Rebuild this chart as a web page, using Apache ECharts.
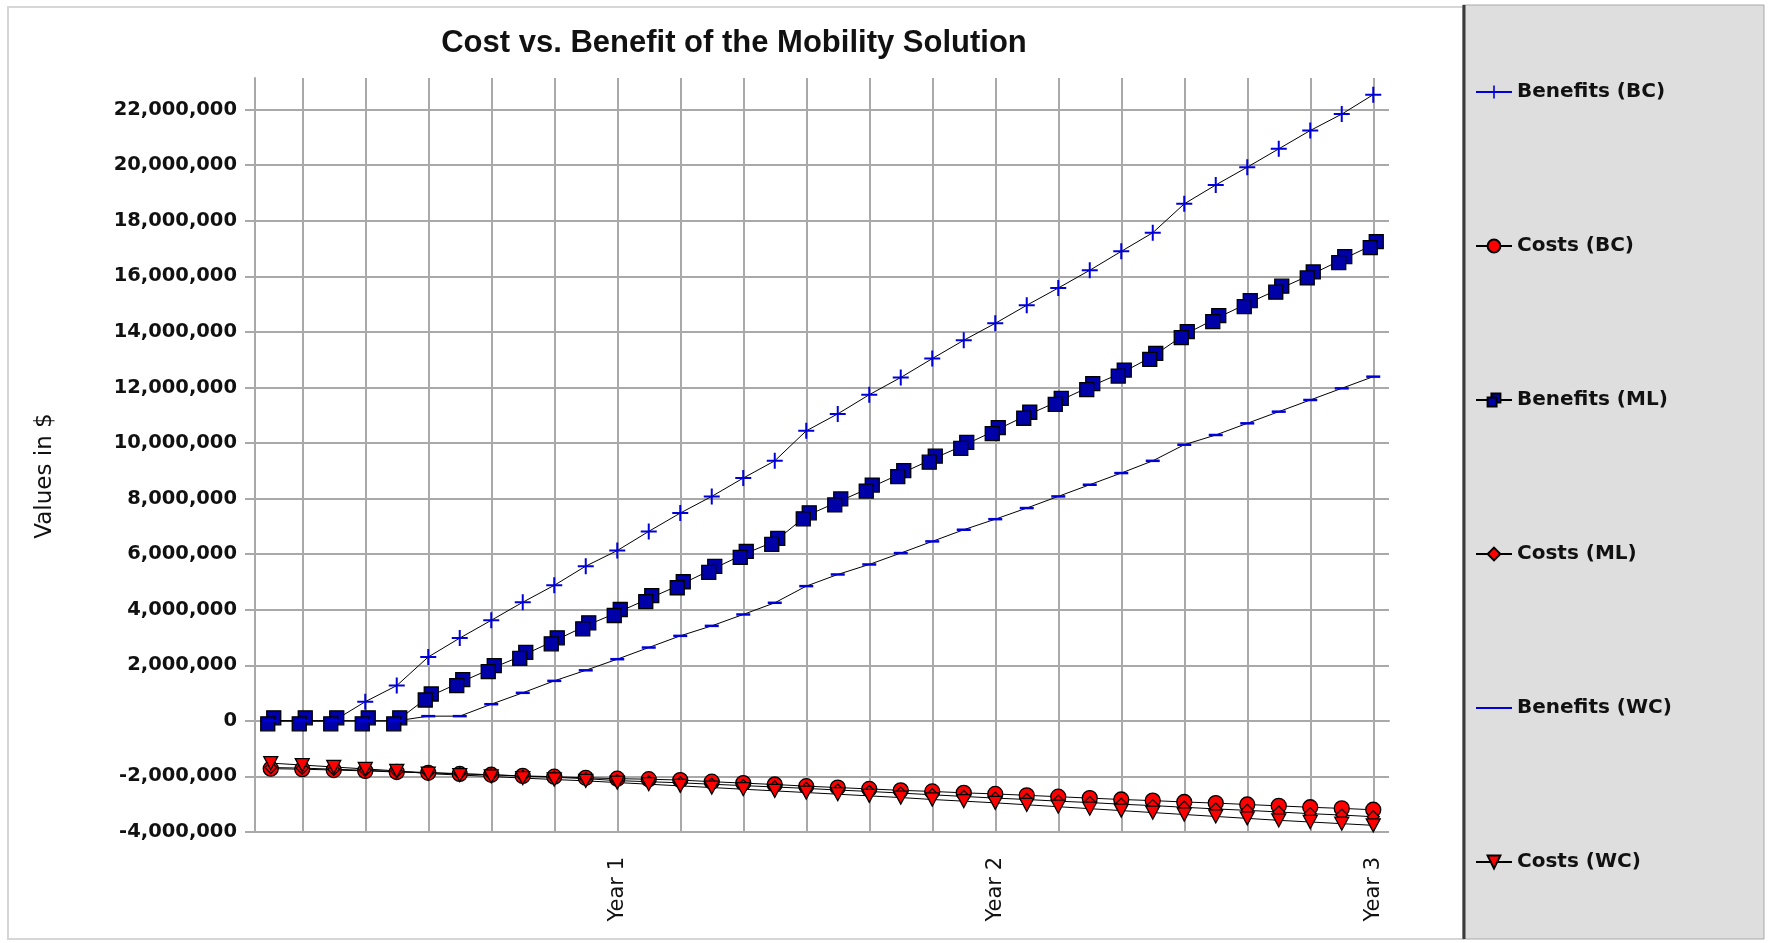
<!DOCTYPE html>
<html>
<head>
<meta charset="utf-8">
<title>Cost vs. Benefit of the Mobility Solution</title>
<script src="https://cdn.jsdelivr.net/npm/echarts@6.0.0/dist/echarts.min.js"></script>
<style>
  html, body { margin: 0; padding: 0; background: #fff; }
  #chart { width: 1769px; height: 943px; }
</style>
</head>
<body>
<div id="chart"></div>
<script>
// months 1..36, only every 12th month gets a "Year N" label
const months = ['1', '2', '3', '4', '5', '6', '7', '8', '9', '10', '11', '12',
  '13', '14', '15', '16', '17', '18', '19', '20', '21', '22', '23', '24',
  '25', '26', '27', '28', '29', '30', '31', '32', '33', '34', '35', '36']

const benefitsBC = [0, 0, 0, 690000, 1270000, 2300000, 2980000, 3620000, 4270000, 4880000, 5570000, 6130000,
  6820000, 7480000, 8080000, 8740000, 9360000, 10440000, 11050000, 11740000, 12360000, 13040000, 13700000, 14310000,
  14960000, 15580000, 16220000, 16900000, 17570000, 18610000, 19290000, 19930000, 20590000, 21250000, 21840000, 22540000]

const costsBC = [-1720000, -1740000, -1770000, -1800000, -1840000, -1870000, -1910000, -1940000, -1980000, -2010000, -2050000, -2080000,
  -2100000, -2130000, -2190000, -2240000, -2290000, -2350000, -2400000, -2450000, -2500000, -2540000, -2590000, -2630000,
  -2680000, -2730000, -2780000, -2830000, -2870000, -2920000, -2960000, -3010000, -3060000, -3110000, -3150000, -3200000]

const benefitsML = [0, 0, 0, 0, 0, 860000, 1380000, 1880000, 2360000, 2880000, 3420000, 3900000,
  4400000, 4900000, 5450000, 5990000, 6460000, 7380000, 7880000, 8380000, 8900000, 9420000, 9920000, 10450000,
  11000000, 11500000, 12030000, 12520000, 13120000, 13900000, 14480000, 15020000, 15540000, 16050000, 16600000, 17140000]

const costsML = [-1680000, -1700000, -1740000, -1780000, -1820000, -1860000, -1900000, -1940000, -1990000, -2030000, -2080000, -2150000,
  -2190000, -2230000, -2280000, -2330000, -2380000, -2430000, -2490000, -2540000, -2600000, -2660000, -2720000, -2780000,
  -2830000, -2890000, -2940000, -3000000, -3050000, -3110000, -3170000, -3220000, -3280000, -3340000, -3390000, -3450000]

const benefitsWC = [0, 0, 0, 0, 0, 170000, 170000, 600000, 1010000, 1440000, 1820000, 2220000,
  2640000, 3060000, 3420000, 3830000, 4250000, 4850000, 5270000, 5630000, 6040000, 6460000, 6880000, 7260000,
  7660000, 8080000, 8500000, 8920000, 9360000, 9940000, 10290000, 10710000, 11130000, 11550000, 11970000, 12390000]

const costsWC = [-1520000, -1590000, -1660000, -1730000, -1800000, -1900000, -1950000, -2000000, -2060000, -2110000, -2160000, -2220000,
  -2280000, -2340000, -2400000, -2460000, -2520000, -2580000, -2640000, -2700000, -2760000, -2830000, -2890000, -2950000,
  -3020000, -3090000, -3160000, -3230000, -3300000, -3370000, -3440000, -3510000, -3580000, -3640000, -3700000, -3760000]

const gridColor = '#a9a9a9'
const textColor = '#111'

// marker shapes
const plusPath = 'path://M7,0 H9 V7 H16 V9 H9 V16 H7 V9 H0 V7 H7 Z'
const doubleSquarePath = 'path://M3,0 L10,0 L10,7 L7,7 L7,3 L3,3 Z M0,3 L7,3 L7,10 L0,10 Z'
const dashPath = 'path://M0,0 H10 V2 H0 Z'
const downTrianglePath = 'path://M0,0 L10,0 L5,9 Z'

function lineSeries(name, data, symbol, size, color, border) {
  return {
    name: name,
    type: 'line',
    data: data,
    symbol: symbol,
    symbolSize: size,
    showAllSymbol: true,
    lineStyle: { color: '#000', width: 1 },
    itemStyle: {
      color: color,
      borderColor: border ? '#000' : color,
      borderWidth: border ? 1.3 : 0
    },
    emphasis: { disabled: true }
  }
}

const myChart = echarts.init(document.getElementById('chart'))
const option = {
  animation: false,
  backgroundColor: '#fff',
  title: {
    text: 'Cost vs. Benefit of the Mobility Solution',
    left: 729,
    top: 23,
    textAlign: 'center',
    textStyle: {
      fontFamily: 'Liberation Sans',
      fontWeight: 'bold',
      fontSize: 31,
      color: textColor
    }
  },
  graphic: [
    {
      // white frame round the plot
      type: 'rect',
      z: -10,
      shape: { x: 8, y: 7, width: 1455, height: 932 },
      style: { fill: '#fff', stroke: '#d6d6d6', lineWidth: 2 }
    },
    {
      // grey legend panel
      type: 'rect',
      z: -10,
      shape: { x: 1463, y: 5, width: 301, height: 934 },
      style: { fill: '#dedede', stroke: '#a8a8a8', lineWidth: 1 }
    },
    {
      type: 'line',
      z: -9,
      shape: { x1: 1464, y1: 5, x2: 1464, y2: 939 },
      style: { stroke: '#3a3a3a', lineWidth: 3 }
    },
    {
      type: 'text',
      x: 45,
      y: 476,
      rotation: Math.PI / 2,
      style: {
        text: 'Values in $',
        fontFamily: 'DejaVu Sans',
        fontSize: 23,
        fill: textColor,
        align: 'center',
        verticalAlign: 'middle'
      }
    }
  ],
  legend: {
    orient: 'vertical',
    left: 1470,
    top: 77,
    itemWidth: 36,
    itemHeight: 16,
    itemGap: 134,
    textStyle: {
      fontFamily: 'DejaVu Sans',
      fontWeight: 'bold',
      fontSize: 20,
      lineHeight: 20,
      color: textColor
    },
    data: [
      { name: 'Benefits (BC)', lineStyle: { color: '#0000dd' } },
      { name: 'Costs (BC)' },
      { name: 'Benefits (ML)' },
      { name: 'Costs (ML)' },
      { name: 'Benefits (WC)', icon: 'path://M0,7 H36 V9 H0 Z', itemStyle: { color: '#0000dd' } },
      { name: 'Costs (WC)' }
    ]
  },
  grid: {
    left: 255,
    right: 380,
    top: 78,
    bottom: 111
  },
  xAxis: {
    type: 'category',
    data: months,
    boundaryGap: true,
    axisLine: { lineStyle: { color: gridColor, width: 2 } },
    axisTick: {
      alignWithLabel: true,
      interval: function (i) { return i % 2 === 1 },
      length: 10,
      lineStyle: { color: gridColor, width: 2 }
    },
    splitLine: {
      show: true,
      alignWithLabel: true,
      interval: function (i) { return i % 2 === 1 },
      lineStyle: { color: gridColor, width: 2 }
    },
    axisLabel: {
      interval: 0,
      rotate: 90,
      margin: 25,
      fontFamily: 'DejaVu Sans',
      fontSize: 21,
      color: textColor,
      formatter: function (v) {
        return Number(v) % 12 === 0 ? 'Year ' + Number(v) / 12 : ''
      }
    }
  },
  yAxis: {
    type: 'value',
    min: -4000000,
    max: 23140000,
    interval: 2000000,
    axisLine: { show: true, lineStyle: { color: gridColor, width: 2 } },
    axisTick: { show: true, length: 10, lineStyle: { color: gridColor, width: 2 } },
    splitLine: { showMaxLine: false, lineStyle: { color: gridColor, width: 2 } },
    axisLabel: {
      showMaxLabel: false,
      margin: 18,
      fontFamily: 'DejaVu Sans',
      fontWeight: 'bold',
      fontSize: 19.5,
      color: textColor,
      formatter: function (v) { return v.toLocaleString('en-US') }
    }
  },
  series: [
    lineSeries('Benefits (BC)', benefitsBC, plusPath, 16, '#0000dd', false),
    lineSeries('Costs (BC)', costsBC, 'circle', 15, '#ff0000', true),
    lineSeries('Benefits (ML)', benefitsML, doubleSquarePath, 20, '#0000a8', true),
    lineSeries('Costs (ML)', costsML, 'diamond', 12, '#ff0000', true),
    lineSeries('Benefits (WC)', benefitsWC, dashPath, [14, 2.5], '#0000dd', false),
    lineSeries('Costs (WC)', costsWC, downTrianglePath, [14, 13], '#ff0000', true)
  ]
}
myChart.setOption(option)
</script>
</body>
</html>
